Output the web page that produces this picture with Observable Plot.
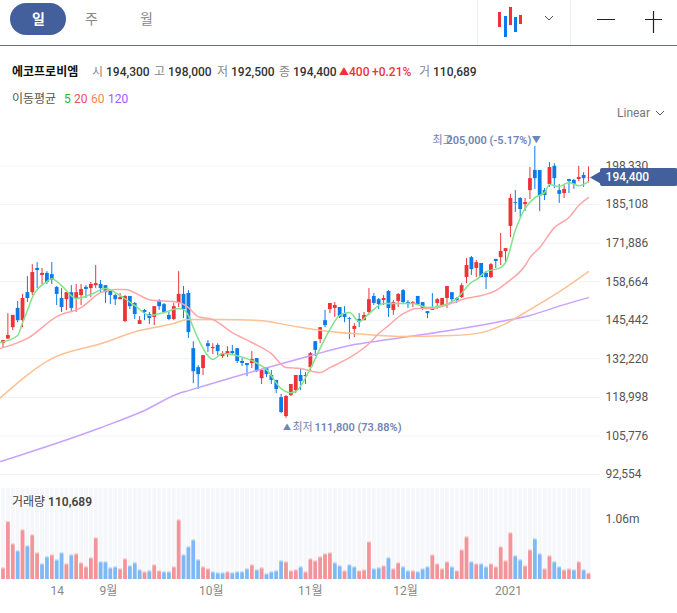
<!DOCTYPE html>
<html lang="ko"><head><meta charset="utf-8">
<script src="https://cdn.jsdelivr.net/npm/d3@7"></script>
<script src="https://cdn.jsdelivr.net/npm/@observablehq/plot@0.6"></script>
<style>
html,body{margin:0;padding:0;background:#fff;width:677px;overflow:hidden}
body{font-family:Roboto,"Noto Sans CJK KR",sans-serif;font-size:12px;color:#333;position:relative;height:613px}
#head{position:relative;height:125px}
#head span{position:absolute;white-space:nowrap;line-height:14px}
#line{position:absolute;left:0;right:0;top:45px;height:1px;background:#6b7075}
.sep{position:absolute;top:0;height:45px;width:1px;background:#eceef1}
#pill{position:absolute;left:10px;top:3px;width:56px;height:32px;border-radius:16px;background:#44609c}
#head svg{position:absolute;left:0;top:0}
#price svg,#vol svg{display:block}
#voltitle{position:absolute;left:12px;top:495px;line-height:15px;color:#444}
</style></head><body>
<div id="head">
<div id="pill"></div><div id="line"></div><div class="sep" style="left:477px"></div><div class="sep" style="left:570px"></div>
<svg width="677" height="125" fill="none">
<rect x="498" y="12" width="3" height="15" fill="#ee3338"/><rect x="504" y="16" width="3" height="21" fill="#0b7bea"/>
<rect x="509" y="7" width="3" height="18" fill="#ee3338"/><rect x="514" y="17" width="3" height="15" fill="#0b7bea"/>
<rect x="519" y="15" width="3" height="9" fill="#ee3338"/>
<path d="M545 16l4 4 4-4M656 111l4 4 4-4" stroke="#555" stroke-width="1"/>
<path d="M597 19.5h18M645 19.5h17M653.5 11v22" stroke="#222" stroke-width="1.2"/>
</svg>
<span style="left:32px;top:12px;color:#fff;font-size:14px;font-weight:700">일</span>
<span style="left:85px;top:12px;color:#888;font-size:14px">주</span>
<span style="left:140px;top:12px;color:#888;font-size:14px">월</span>
<span style="left:12px;top:65px;font-weight:700;color:#111">에코프로비엠</span>
<span id="r1"></span>
<span style="left:12px;top:92px;color:#555">이동평균</span>
<span style="left:64px;top:92px;color:#2bb52b">5</span>
<span style="left:74px;top:92px;color:#f44d55">20</span>
<span style="left:91px;top:92px;color:#f5884f">60</span>
<span style="left:108px;top:92px;color:#9e5bff">120</span>
<span style="left:617px;top:106px;color:#777">Linear</span>
</div>
<div id="price"></div>
<div id="vol"></div>
<div id="voltitle">거래량 <b style="font-weight:600">110,689</b></div>
<script>
const open = [137.5,139.0,142.9,149.5,145.3,154.9,154.9,163.2,160.8,161.5,
161.1,156.7,152.9,152.5,154.9,152.9,153.9,156.7,156.3,157.3,
157.7,157.3,155.3,153.9,152.5,145.0,153.6,151.2,144.0,148.8,
147.4,146.4,152.2,150.8,147.1,145.7,151.2,154.3,154.6,135.7,
129.2,128.9,137.4,135.7,136.8,133.0,134.0,134.7,135.7,131.3,
130.6,130.6,132.3,125.4,129.2,126.5,124.8,118.9,112.4,119.6,
121.3,126.5,126.1,129.2,138.1,138.8,145.3,149.1,149.5,149.8,
147.7,146.0,142.3,145.7,145.3,148.1,153.6,152.5,152.2,155.3,
148.8,151.9,155.6,151.5,151.2,153.6,151.5,148.4,149.5,151.2,
150.5,152.9,154.9,152.9,153.2,160.1,166.9,163.2,164.9,161.5,
160.1,166.3,166.9,169.0,177.6,185.8,187.2,185.1,189.9,196.8,
196.8,189.9,192.0,198.2,189.9,188.9,193.7,193.4,193.7,195.1,194.3];
const close = [138.5,140.2,147.1,145.3,152.9,152.9,161.8,162.5,161.5,158.4,
159.1,154.3,149.8,154.9,149.5,154.9,156.0,156.0,157.7,158.0,
156.3,154.9,153.9,152.5,153.2,153.6,150.1,147.4,145.3,148.1,
146.0,150.1,150.1,148.1,145.7,150.1,154.3,149.1,141.2,127.8,
126.8,133.3,136.4,136.1,134.7,134.0,134.7,134.0,131.3,130.6,
129.9,132.0,127.8,128.2,126.8,124.8,121.7,113.8,119.3,123.4,
126.5,124.4,126.5,134.0,135.1,142.9,143.6,151.2,150.5,146.4,
146.4,145.7,143.3,144.6,147.1,152.5,151.2,150.8,152.9,149.5,
151.5,154.3,151.5,150.8,151.5,150.8,149.5,147.7,148.8,152.5,
152.9,157.0,152.5,152.2,157.3,164.2,162.8,165.2,160.1,160.1,
164.5,165.6,169.0,170.0,187.2,185.5,183.4,185.8,194.0,194.0,
187.9,188.2,197.8,194.0,188.6,190.3,193.0,192.0,194.4,194.0,194.4];
const high = [138.5,147.7,147.1,151.9,154.3,160.4,164.5,165.2,163.2,162.1,
165.2,157.0,156.3,154.9,157.3,157.7,157.7,157.3,158.4,164.2,
159.1,157.3,155.3,154.3,154.6,153.9,153.6,151.5,146.7,149.1,
148.1,150.1,152.5,151.2,148.1,151.2,162.1,157.0,155.6,138.1,
129.9,133.3,138.5,137.4,137.4,134.7,136.4,136.8,135.7,132.3,
130.6,134.7,132.3,128.5,129.2,128.2,124.8,120.0,119.6,123.4,
126.5,128.5,127.5,134.4,138.1,142.9,148.8,151.2,151.5,149.8,
150.1,146.4,144.3,147.7,148.1,156.3,154.6,152.9,153.9,155.6,
152.2,154.6,156.0,152.2,151.9,153.6,151.5,148.4,154.6,152.9,
152.9,157.0,154.9,153.2,158.0,166.6,167.3,165.9,164.9,161.8,
164.9,166.3,175.2,170.0,188.6,189.9,187.5,187.2,197.8,205.0,
196.8,190.6,199.5,199.1,192.0,191.6,193.7,193.7,198.2,196.1,198.0];
const low = [135.8,138.8,141.9,144.6,142.9,151.5,153.9,156.3,157.3,157.7,
157.7,150.5,148.1,148.8,148.1,148.1,150.5,152.9,153.2,156.3,
154.9,151.2,150.8,150.5,152.5,144.6,149.1,145.7,144.0,145.3,
144.0,143.6,148.8,147.7,145.3,145.3,149.8,146.0,139.2,123.7,
121.7,126.5,134.4,133.7,133.3,132.3,132.6,133.7,130.6,129.6,
126.1,128.9,127.5,123.4,125.8,123.4,120.3,113.4,111.8,119.3,
120.3,121.3,123.4,127.8,133.0,137.4,142.9,147.7,146.4,146.0,
144.6,138.8,139.5,142.9,145.3,147.1,150.5,149.1,150.5,146.4,
147.1,149.8,150.8,149.5,149.8,150.5,148.8,146.0,148.8,149.1,
149.8,149.5,151.2,151.2,152.9,158.0,160.8,160.1,160.1,156.0,
159.7,163.2,164.2,165.2,173.8,182.4,180.7,182.7,186.8,190.3,
182.7,186.5,191.0,190.6,185.5,187.2,188.9,190.3,193.0,191.0,192.5];
const volume = [204,1016,625,502,870,590,783,467,274,397,
432,345,467,274,432,450,292,222,380,730,
310,310,204,222,187,362,239,292,169,134,
152,257,152,134,134,222,1045,432,572,695,
345,222,187,134,117,117,134,117,134,134,
187,257,169,204,99,134,152,327,310,152,
169,222,134,362,327,397,450,467,292,239,
152,257,222,152,169,660,187,204,239,380,
187,292,222,152,152,134,187,222,432,274,
187,310,222,152,520,748,310,274,274,222,
274,222,572,327,818,415,345,239,520,712,
450,187,415,310,222,169,187,169,310,169,110.689];
const volumeUp = "rrrbrbrrbb"+"rbbrbrrrrr"+"bbbbrrbbbr"+"brrbbrrbbb"+"brrbbbrbbb"+"brbrbbbbrr"+"rbrrrrrrbb"+"rbbrrrbbrb"+"rrbbrbbbrr"+"rrbrrrbrbb"+"rrrrrbbrrb"+"brrbbrrbrb"+"r";

const ma5Idx = [-0.5,3,4,5,6,9,10,12,15,18,21,24,27,30,33,36,37,38,39,42,43,45,48,51,54,57,59,60,63,66,67,69,71,73,75,78,81,84,87,90,93,96,97,99,102,103,105,107,109,111,112,114,116,118,120];
const ma5 = [137.8,140.2,144.6,148.8,153.2,158.7,159.7,157.3,152.9,154.3,156.3,153.9,150.5,147.1,148.1,149.5,149.1,147.1,142.9,133.3,132.0,134.0,133.3,131.6,128.5,122.0,120.6,121.0,128.9,139.2,142.3,147.1,148.1,145.0,147.7,151.2,151.2,151.2,149.8,150.5,152.9,158.4,159.4,162.1,163.5,165.2,176.2,183.8,187.5,189.2,192.0,191.3,192.7,191.6,193.0];
const ma20Idx = [-0.5,5,11,16,20,23,25,30,36,38,40,43,47,51,55,58,61,65,67,71,75,77,79,82,85,88,94,101,103,107,108,110,113,116,118,120];
const ma20 = [135.8,139.2,146.7,149.8,154.9,156.0,156.0,152.5,151.5,149.8,146.7,145.7,141.2,137.8,134.0,129.2,128.9,127.5,129.2,132.6,137.4,140.9,143.6,147.7,149.5,149.5,152.5,155.6,158.0,164.2,166.9,170.4,177.2,180.7,184.8,187.5];
const ma60Idx = [-0.5,10,20,28,35,38,45,53,59,67,75,81,92,98,103,108,115,120];
const ma60 = [118.9,132.3,137.4,141.9,144.3,145.7,145.7,145.3,143.6,141.6,140.5,139.9,140.2,141.2,144.3,149.1,156.3,162.1];
const ma120Idx = [-0.5,20,29,36,38,47,55,63,71,79,94,102,108,115,120];
const ma120 = [97.0,108.6,114.5,120.3,121.3,125.8,129.6,133.3,136.8,138.8,142.6,145.0,147.1,150.8,153.2];

const priceTicks = [198330,185108,171886,158664,145442,132220,118998,105776,92554];
const dateTickPos = [11.1,21.6,42.7,63,82.5,103.6];
const dateTickLabels = ["14","9월","10월","11월","12월","2021"];
const lastPrice = 194400, lastIdx = 120, highIdx = 109, lowIdx = 58;

const RED="#ee3338", BLUE="#0b7bea";
const FONT='Roboto,"Noto Sans CJK KR",sans-serif';
const idx = open.map((_,i)=>i);
const isUp = i => close[i]>=open[i];
const xScale = {domain:[-0.512,122.46]};
const series = (ix,vals)=>ix.map((x,k)=>({x,y:vals[k]*1000}));
const annot="#6f85b6";

document.getElementById("price").append(Plot.plot({
  width:677,height:362,marginLeft:0,marginRight:77,marginTop:0,marginBottom:0,
  x:{...xScale,axis:null},
  y:{domain:[88090,212220],label:null,axis:null},
  style:{fontFamily:FONT,fontSize:"12px",background:"transparent",overflow:"visible"},
  marks:[
    Plot.ruleY(priceTicks,{stroke:"#f0f2f6"}),
    Plot.axisY({anchor:"right",ticks:priceTicks,tickSize:0,tickPadding:5,tickFormat:d3.format(","),label:null,color:"#555"}),
    Plot.ruleX(idx,{x:d=>d,y1:i=>low[i]*1000,y2:i=>high[i]*1000,stroke:i=>isUp(i)?RED:BLUE,strokeWidth:1}),
    Plot.ruleX(idx,{x:d=>d,y1:i=>open[i]*1000,y2:i=>close[i]*1000,stroke:i=>isUp(i)?RED:BLUE,strokeWidth:3.8}),
    Plot.line(series(ma120Idx,ma120),{x:"x",y:"y",stroke:"#c9a2ff",strokeWidth:1.5,curve:"monotone-x"}),
    Plot.line(series(ma60Idx,ma60),{x:"x",y:"y",stroke:"#ffc093",strokeWidth:1.5,curve:"monotone-x"}),
    Plot.line(series(ma20Idx,ma20),{x:"x",y:"y",stroke:"#ffa6a8",strokeWidth:1.5,curve:"monotone-x"}),
    Plot.line(series(ma5Idx,ma5),{x:"x",y:"y",stroke:"#83e38a",strokeWidth:1.5,curve:"monotone-x"}),
    Plot.rect([{x1:122.46,x2:138.3,y1:lastPrice-3100,y2:lastPrice+3100}],{x1:"x1",x2:"x2",y1:"y1",y2:"y2",fill:"#44609c",rx:2}),
    Plot.dot([{x:121.9,y:lastPrice}],{x:"x",y:"y",symbol:"triangle",r:5,fill:"#44609c",rotate:-90}),
    Plot.text([{x:123.5,y:lastPrice}],{x:"x",y:"y",text:()=>d3.format(",")(lastPrice),fill:"#fff",textAnchor:"start",fontWeight:500,fontSize:12}),
    Plot.text([{x:highIdx,y:high[highIdx]*1000}],{x:"x",y:"y",dy:-6,dx:1.5,text:()=>"▼",fill:annot,fontSize:9}),
    Plot.text([{x:highIdx,y:high[highIdx]*1000}],{x:"x",y:"y",dy:-6,dx:-3.5,text:()=>"205,000 (-5.17%)",fill:annot,textAnchor:"end",fontWeight:600,fontSize:11}),
    Plot.text([{x:highIdx,y:high[highIdx]*1000}],{x:"x",y:"y",dy:-6,dx:-82,text:()=>"최고",fill:annot,textAnchor:"end",fontSize:11}),
    Plot.text([{x:lowIdx,y:low[lowIdx]*1000}],{x:"x",y:"y",dy:9,dx:1,text:()=>"▲",fill:annot,fontSize:8}),
    Plot.text([{x:lowIdx,y:low[lowIdx]*1000}],{x:"x",y:"y",dy:9,dx:6.5,text:()=>"최저",fill:annot,textAnchor:"start",fontSize:11}),
    Plot.text([{x:lowIdx,y:low[lowIdx]*1000}],{x:"x",y:"y",dy:9,dx:28.5,text:()=>"111,800 (73.88%)",fill:annot,textAnchor:"start",fontWeight:600,fontSize:11})
  ]
}));

document.getElementById("vol").append(Plot.plot({
  width:677,height:118,marginLeft:0,marginRight:77,marginTop:1,marginBottom:26,
  x:{...xScale,axis:null},
  y:{domain:[0,1594],label:null,axis:null},
  style:{fontFamily:FONT,fontSize:"12px",background:"transparent",overflow:"visible"},
  marks:[
    Plot.ruleX(idx,{x:d=>d,y1:0,y2:1594,stroke:"#f6f7fb",strokeWidth:3.9}),
    Plot.axisY({anchor:"right",ticks:[1060],tickSize:0,tickPadding:5,tickFormat:()=>"1.06m",label:null,color:"#555"}),
    Plot.ruleX(idx,{x:d=>d,y1:0,y2:i=>volume[i],stroke:i=>volumeUp[i]==="r"?"#f9c4c6":"#b5d7fa",strokeWidth:3.6}),
    Plot.ruleX(idx,{x:d=>d,y1:0,y2:i=>Math.max(0,volume[i]-22),stroke:i=>volumeUp[i]==="r"?"#f2959a":"#7eb9f5",strokeWidth:3.6}),
    Plot.text(dateTickPos,{x:d=>d,y:0,dy:12,text:(d,i)=>dateTickLabels[i],fill:"#888",fontSize:12})
  ]
}));

const row=[["시",92,"#888"],["194,300",106,"#333"],["고",154,"#888"],["198,000",168,"#333"],["저",217,"#888"],["192,500",231,"#333"],["종",279,"#888"],["194,400",293,"#333"],["▲",339,RED,10],["400",349,RED],["+0.21%",372,RED],["거",419,"#888"],["110,689",433,"#333"]];
const anchor=document.getElementById("r1");
row.forEach(([t,x,c,fs])=>{const s=document.createElement("span");s.textContent=t;s.style.cssText=`left:${x}px;top:65px;color:${c};font-size:${fs||12}px;font-weight:${c==="#888"?400:500}`;anchor.parentNode.append(s);});
</script>
</body></html>
